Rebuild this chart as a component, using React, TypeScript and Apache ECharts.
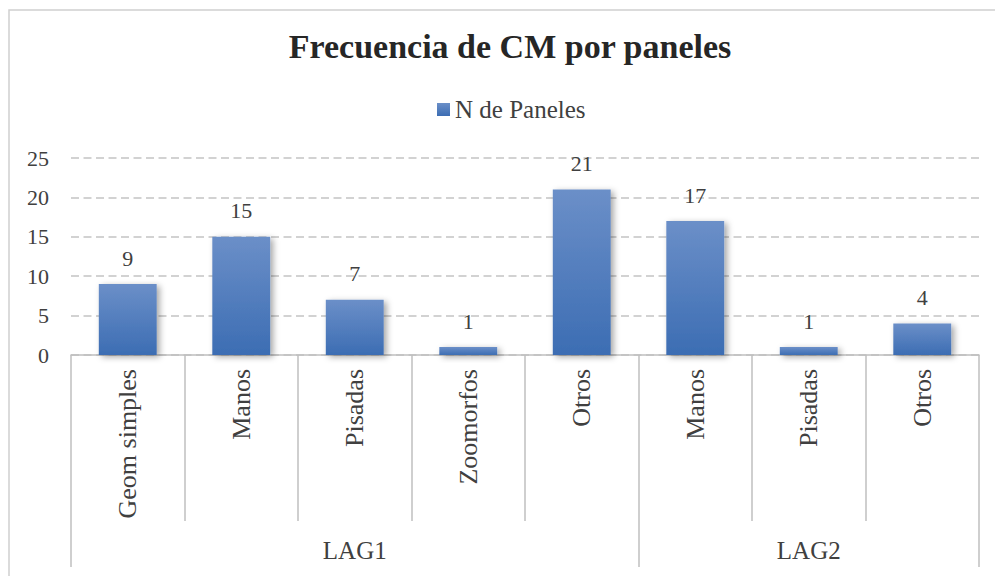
import React, { useEffect, useRef } from "react";
import * as echarts from "echarts";

const categories = ["Geom simples", "Manos", "Pisadas", "Zoomorfos", "Otros", "Manos", "Pisadas", "Otros"];
const panelCounts = [9, 15, 7, 1, 21, 17, 1, 4];
const groupNames = ["LAG1", "LAG2"];
const groupSizes = [5, 3];
const yTicks = [0, 5, 10, 15, 20, 25];

const FONT = "'Liberation Serif', 'Times New Roman', serif";

export default function App() {
  const ref = useRef<HTMLDivElement>(null);
  useEffect(() => {
    if (!ref.current) return;
    const chart = echarts.init(ref.current, null, { renderer: "svg" });

    const groupStart: number[] = [];
    const groupLabelAt: Record<number, string> = {};
    let acc = 0;
    groupSizes.forEach((n, i) => {
      groupStart.push(acc);
      groupLabelAt[acc + (n - 1) / 2] = groupNames[i];
      acc += n;
    });

    const axisGray = "#bfbfbf";
    chart.setOption({
      animation: false,
      backgroundColor: "#ffffff",
      title: {
        text: "Frecuencia de CM por paneles",
        left: 510,
        textAlign: "center",
        top: 29,
        padding: 0,
        textStyle: { fontFamily: FONT, fontSize: 34, fontWeight: "bold", color: "#262626" },
      },
      legend: {
        data: ["N de Paneles"],
        left: 437,
        top: 97,
        padding: 0,
        icon: "rect",
        itemWidth: 13,
        itemHeight: 13,
        itemGap: 6,
        textStyle: { fontFamily: FONT, fontSize: 25, color: "#404040" },
      },
      grid: { left: 71, right: 16, top: 158, bottom: 221, containLabel: false },
      xAxis: [
        {
          type: "category",
          data: categories,
          boundaryGap: true,
          axisLine: { show: true, lineStyle: { color: axisGray, width: 1.5 } },
          axisTick: { show: true, interval: 0, length: 166, lineStyle: { color: axisGray, width: 1.5 } },
          axisLabel: {
            interval: 0,
            rotate: 90,
            margin: 14,
            fontFamily: FONT,
            fontSize: 26,
            color: "#404040",
          },
        },
        {
          type: "category",
          data: categories,
          position: "bottom",
          offset: 166,
          boundaryGap: true,
          axisLine: { show: false },
          axisTick: {
            show: true,
            interval: (idx: number) => groupStart.indexOf(idx) >= 0,
            length: 46,
            lineStyle: { color: axisGray, width: 1.5 },
          },
          axisLabel: {
            interval: 0,
            margin: 17,
            fontFamily: FONT,
            fontSize: 25,
            color: "#404040",
            formatter: (_v: string, idx: number) => groupLabelAt[idx] || "",
          },
        },
      ],
      yAxis: {
        type: "value",
        min: yTicks[0],
        max: yTicks[yTicks.length - 1],
        interval: yTicks[1] - yTicks[0],
        axisLine: { show: false },
        axisTick: { show: false },
        axisLabel: { margin: 22, fontFamily: FONT, fontSize: 22, color: "#404040" },
        splitLine: { show: true, lineStyle: { color: "#c4c4c4", width: 1.5, type: [8, 4.5] } },
      },
      series: [
        {
          name: "N de Paneles",
          type: "bar",
          xAxisIndex: 0,
          data: panelCounts,
          barCategoryGap: "49%",
          itemStyle: {
            color: new echarts.graphic.LinearGradient(0, 0, 0, 1, [
              { offset: 0, color: "#6b8fc8" },
              { offset: 1, color: "#3c6db3" },
            ]),
            shadowColor: "rgba(0,0,0,0.35)",
            shadowBlur: 6,
            shadowOffsetX: 3,
            shadowOffsetY: 2,
          },
          label: {
            show: true,
            position: "top",
            distance: 15,
            fontFamily: FONT,
            fontSize: 22,
            color: "#404040",
          },
        },
      ],
      graphic: [
        {
          type: "rect",
          silent: true,
          shape: { x: 9, y: 10, width: 1000, height: 600 },
          style: { fill: "none", stroke: "#d0d0d0", lineWidth: 1.5 },
        },
      ],
    });
    return () => chart.dispose();
  }, []);
  return (
    <div
      ref={ref}
      style={{ position: "fixed", left: 0, top: 0, width: 995, height: 576, background: "#fff" }}
    />
  );
}
